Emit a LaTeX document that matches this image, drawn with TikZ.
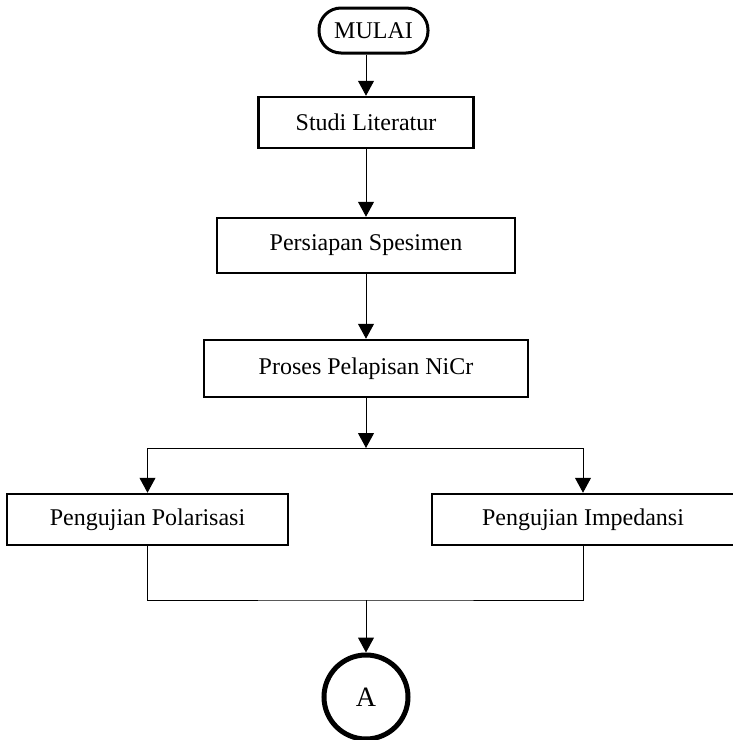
\documentclass[tikz,border=0pt]{standalone}
\usepackage{fontspec}
\setmainfont{Liberation Serif}
\usetikzlibrary{arrows.meta}

\begin{document}
\begin{tikzpicture}[x=0.5pt,y=-0.5pt,
  kotak/.style={draw=black,line width=1.25pt,rectangle,minimum height=25.5pt,inner sep=0pt,font=\fontsize{12}{14}\selectfont},
  terminal/.style={draw=black,line width=1.5pt,rectangle,rounded corners=11pt,minimum width=54.5pt,minimum height=22.5pt,inner sep=0pt,font=\fontsize{12}{14}\selectfont},
  konektor/.style={draw=black,line width=2.5pt,circle,minimum size=42pt,inner sep=0pt,font=\fontsize{14}{16}\selectfont},
  panah/.style={line width=0.5pt,-{Triangle[length=7.5pt,width=8pt]}},
  garis/.style={line width=0.5pt}]
  \useasboundingbox (0,0) rectangle (733,740);
  \node[terminal] (mulai) at (373.5,30.5) {MULAI};
  \node[kotak,minimum width=107.5pt] (studi) at (366,122.5) {Studi Literatur};
  \node[kotak,minimum width=149pt,minimum height=27.5pt] (persiapan) at (366,245.5) {Persiapan Spesimen};
  \node[kotak,minimum width=162pt,minimum height=28.5pt] (proses) at (366,368.5) {Proses Pelapisan NiCr};
  \coordinate (cabang) at (366,448);
  \node[kotak,minimum width=140.5pt] (polar) at (147.5,519.5) {Pengujian Polarisasi};
  \node[kotak,minimum width=151pt] (imped) at (583,519.5) {Pengujian Impedansi};
  \coordinate (gabung) at (366,600);
  \node[konektor] (a) at (366,697) {A};
  \draw[panah] (studi.north |- mulai.south) -- (studi.north);
  \draw[panah] (studi) -- (persiapan);
  \draw[panah] (persiapan) -- (proses);
  \draw[panah] (proses) -- (cabang);
  \draw[panah] (cabang) -| (polar.north);
  \draw[panah] (cabang) -| (imped.north);
  \draw[garis] (polar.south) |- (gabung) -| (imped.south);
  \draw[panah] (gabung) -- (a);
\end{tikzpicture}
\end{document}
